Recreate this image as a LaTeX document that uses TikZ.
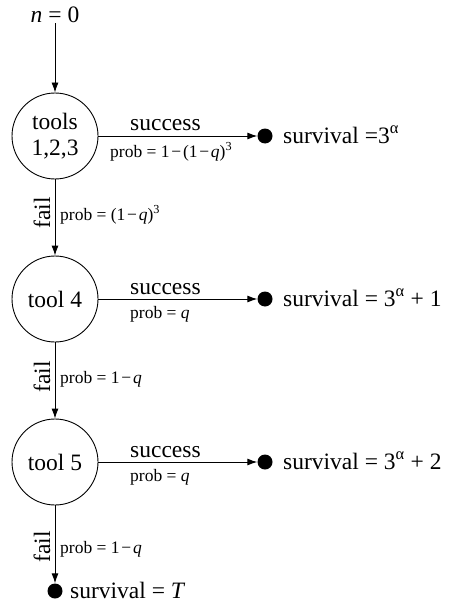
\documentclass[tikz,border=0pt]{standalone}
\usepackage{fontspec}
\setmainfont{Liberation Serif}
\usetikzlibrary{arrows.meta}
\newcommand{\qv}{\textit{q}}
\newcommand{\mn}{\hspace{0.1em}−\hspace{0.1em}}
\begin{document}
\begin{tikzpicture}[x=1pt,y=-1pt,
  bigtext/.style={font=\fontsize{23.5}{26}\selectfont, inner sep=0pt},
  smalltext/.style={font=\fontsize{17.5}{20}\selectfont, inner sep=0pt},
  tool/.style={circle, draw, line width=0.9pt, minimum size=86pt, inner sep=0pt,
    align=center, font=\fontsize{23.5}{26}\selectfont},
  enddot/.style={circle, fill, minimum size=15pt, inner sep=0pt},
  flow/.style={line width=0.9pt, -{Latex[length=10pt,width=7pt]}},
  faillabel/.style={bigtext, rotate=90, anchor=base}]
\useasboundingbox (0,0) rectangle (449,607);

% decision nodes
\node[bigtext] (start) at (55,15) {\textit{n} = 0};
\node[tool] (t123) at (55,136) {tools\\1,2,3};
\node[tool] (t4) at (55,299) {tool 4};
\node[tool] (t5) at (55,462) {tool 5};

% outcomes
\node[enddot] (d1) at (265,136) {};
\node[enddot] (d2) at (265,299) {};
\node[enddot] (d3) at (265,462) {};
\node[enddot] (d4) at (55,591) {};

% connectors
\draw[flow] (start) -- (t123);
\draw[flow] (t123) -- (d1);
\draw[flow] (t4) -- (d2);
\draw[flow] (t5) -- (d3);
\draw[flow] (t123) -- (t4);
\draw[flow] (t4) -- (t5);
\draw[flow] (t5) -- (d4);

% success branches
\node[bigtext, anchor=base west] (s1) at (130,130) {success};
\node[smalltext, anchor=base west] (p1) at (110,157) {prob = 1\mn(1\mn\qv)\textsuperscript{3}};
\node[bigtext, anchor=base west] (s2) at (130,294) {success};
\node[smalltext, anchor=base west] (p2) at (130,318) {prob = \qv};
\node[bigtext, anchor=base west] (s3) at (130,457) {success};
\node[smalltext, anchor=base west] (p3) at (130,481) {prob = \qv};

% survival values
\node[bigtext, anchor=base west] (v1) at (283,143) {survival =3\textsuperscript{α}};
\node[bigtext, anchor=base west] (v2) at (283,306) {survival = 3\textsuperscript{α} + 1};
\node[bigtext, anchor=base west] (v3) at (283,469) {survival = 3\textsuperscript{α} + 2};
\node[bigtext, anchor=base west] (v4) at (70,598) {survival = \textit{T}};

% fail branches
\node[faillabel] (f1) at (50,213) {fail};
\node[smalltext, anchor=base west] (q1) at (60,220) {prob = (1\mn\qv)\textsuperscript{3}};
\node[faillabel] (f2) at (50,377) {fail};
\node[smalltext, anchor=base west] (q2) at (60,383) {prob = 1\mn\qv};
\node[faillabel] (f3) at (50,547) {fail};
\node[smalltext, anchor=base west] (q3) at (60,553) {prob = 1\mn\qv};
\end{tikzpicture}
\end{document}
